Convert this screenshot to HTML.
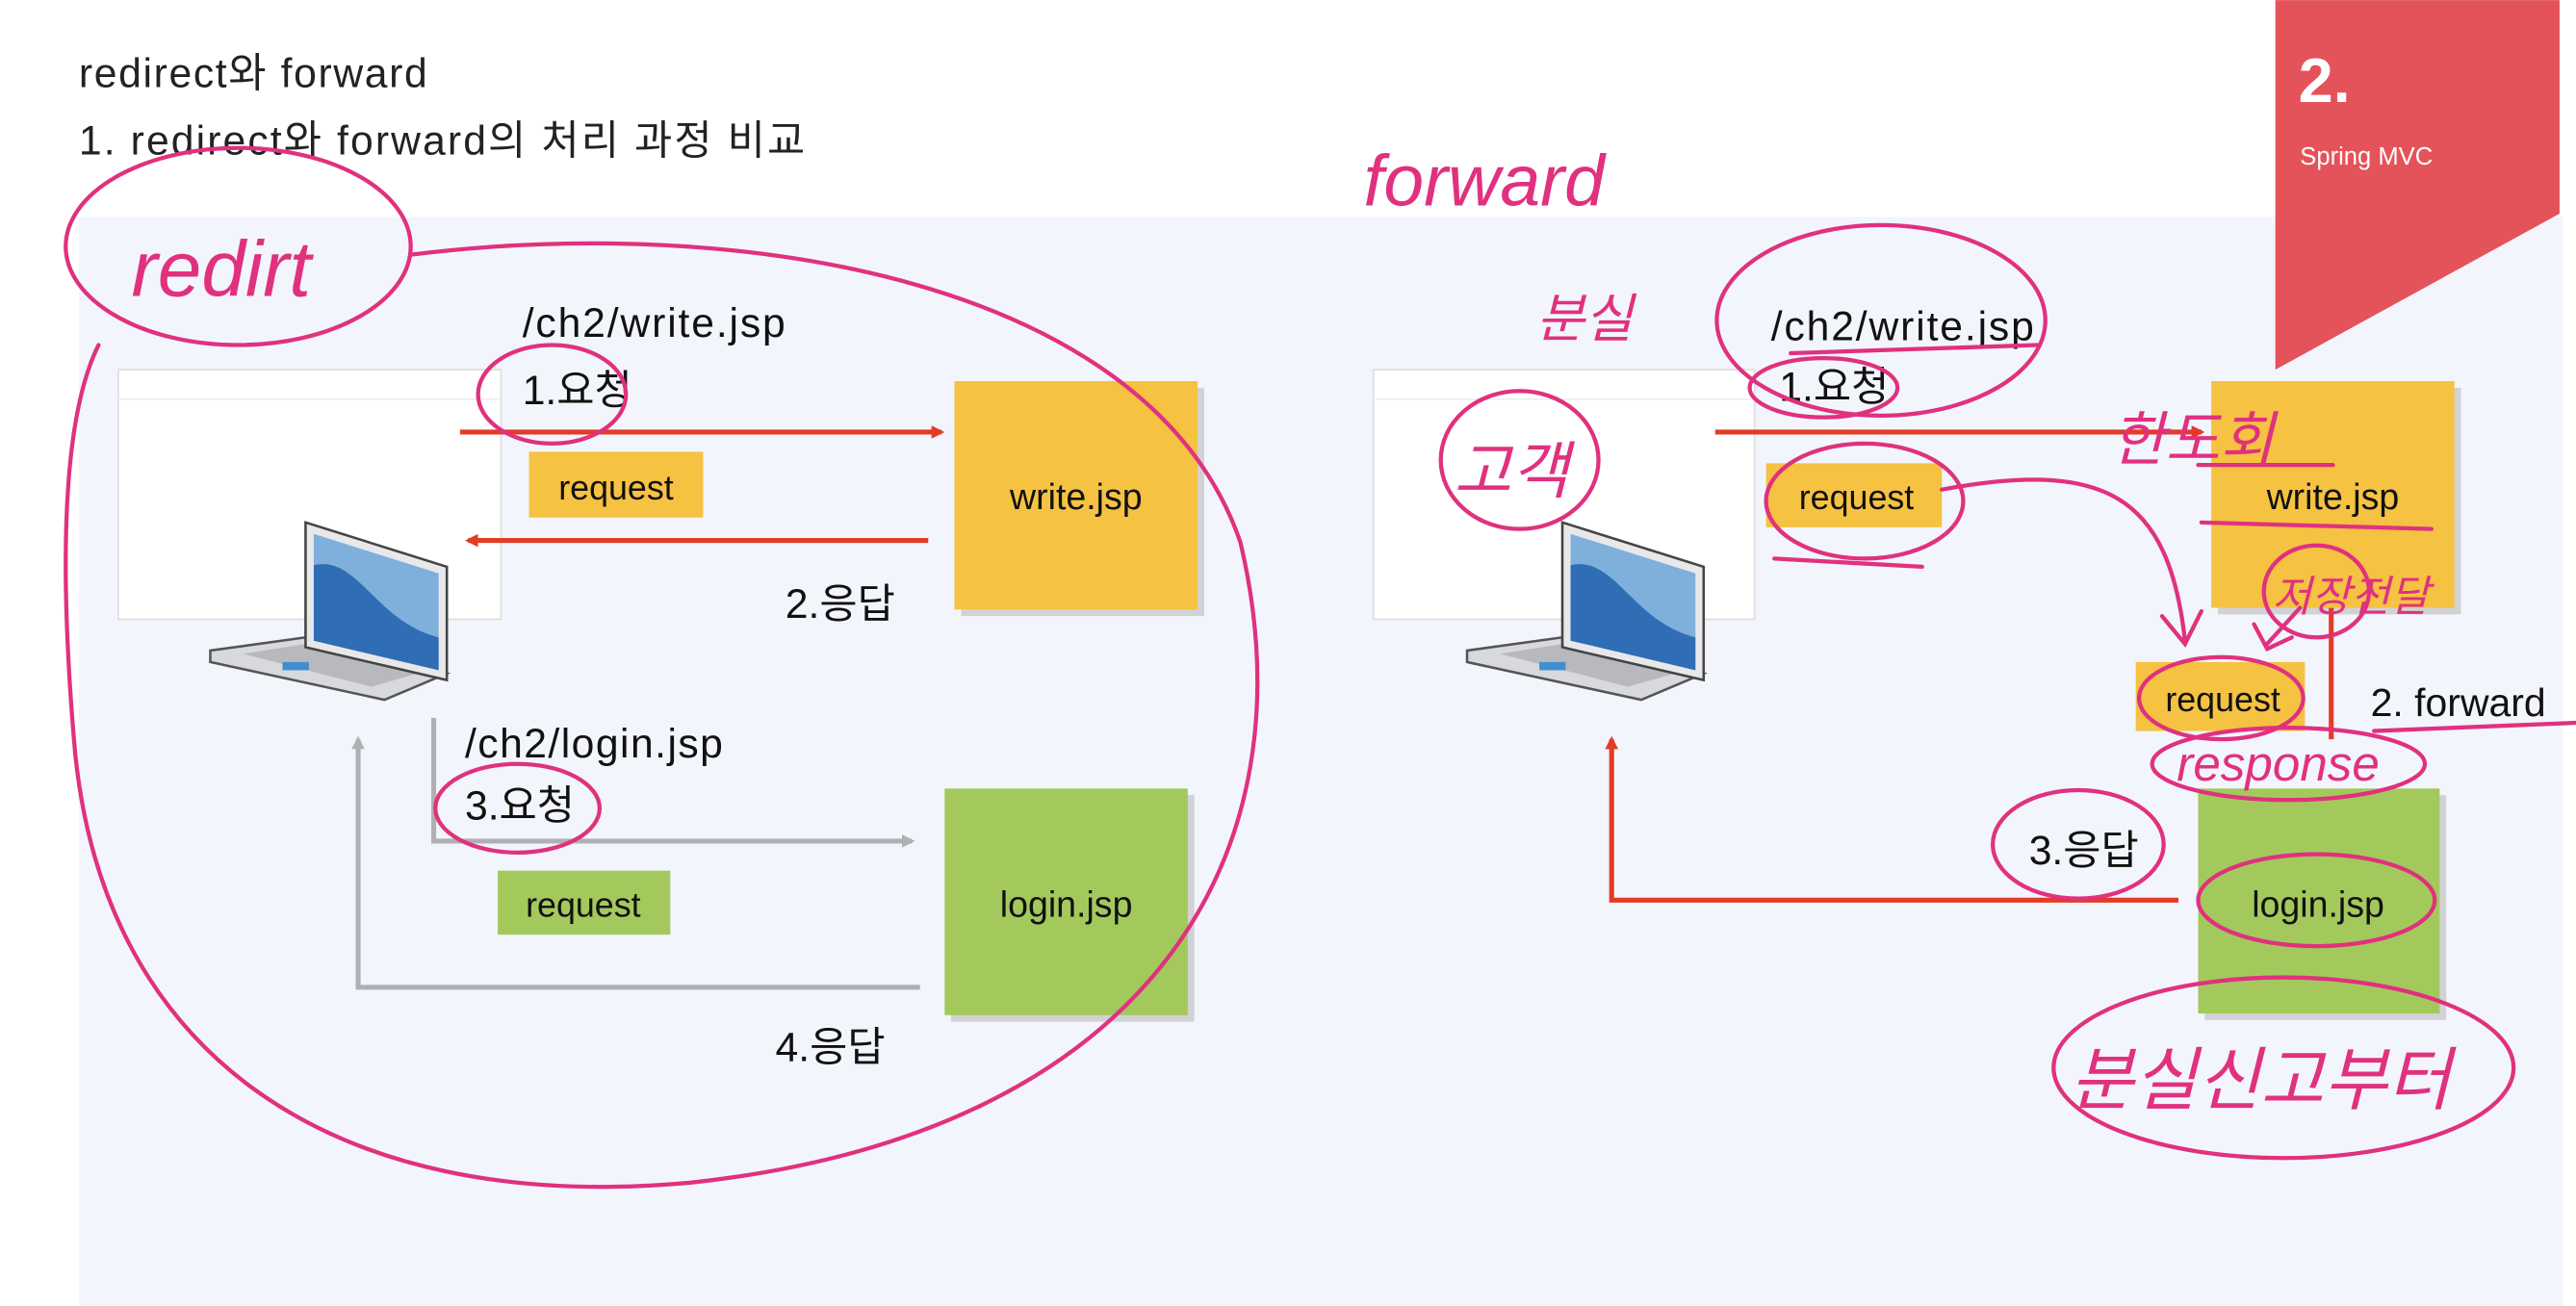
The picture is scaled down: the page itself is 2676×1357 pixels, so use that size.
<!DOCTYPE html>
<html><head><meta charset="utf-8"><style>
html,body{margin:0;padding:0;background:#fff;}
svg{display:block;}
text{font-family:"Liberation Sans","Noto Sans CJK KR",sans-serif;}
</style></head><body>
<svg width="2676" height="1357" viewBox="0 0 1568 795" xmlns="http://www.w3.org/2000/svg">
<defs>
<marker id="ar" markerWidth="8" markerHeight="8" refX="6" refY="4" orient="auto" markerUnits="userSpaceOnUse"><path d="M0,0 L8,4 L0,8 z" fill="#e33b26"/></marker>
<marker id="ag" markerWidth="8" markerHeight="8" refX="6" refY="4" orient="auto" markerUnits="userSpaceOnUse"><path d="M0,0 L8,4 L0,8 z" fill="#b0b0b4"/></marker>
<g id="laptop">
<polygon points="0,78 58,70 144,92 106,108 0,85" fill="#d8d9dc" stroke="#555" stroke-width="1.5"/>
<polygon points="20,80 58,74 126,92 98,100" fill="#b8b9bd"/>
<rect x="44" y="85" width="16" height="5" fill="#3f8fd0"/>
<polygon points="58,0 144,27 144,96 58,76" fill="#e8e8ea" stroke="#444" stroke-width="1.5"/>
<polygon points="63,7 139,31 139,90 63,72" fill="#7fb0dc"/>
<path d="M63,26 C90,20 100,60 139,70 L139,90 L63,72 z" fill="#2f6db5"/>
</g>
</defs>
<rect x="48" y="132" width="1520" height="663" fill="#f3f5fc"/>
<rect x="1560" y="0" width="8" height="795" fill="#fff"/>
<!-- banner -->
<polygon points="1385,0 1558,0 1558,130 1385,225" fill="#e5535a"/>
<text x="1399" y="62" font-size="38" fill="#fff" font-weight="bold">2.</text>
<text x="1400" y="100" font-size="15" fill="#fff">Spring MVC</text>
<!-- titles -->
<text x="48" y="53" font-size="25" fill="#222" textLength="212">redirect와 forward</text>
<text x="48" y="94" font-size="25" fill="#222" textLength="442">1. redirect와 forward의 처리 과정 비교</text>

<!-- LEFT -->
<rect x="72" y="225" width="233" height="152" fill="#fff" stroke="#ddd"/>
<line x1="72" y1="243" x2="305" y2="243" stroke="#eee"/>
<use href="#laptop" x="128" y="318"/>
<text x="318" y="205" font-size="25" fill="#111" textLength="160">/ch2/write.jsp</text>
<text x="318" y="246" font-size="25" fill="#111">1.요청</text>
<line x1="280" y1="263" x2="573" y2="263" stroke="#e33b26" stroke-width="3" marker-end="url(#ar)"/>
<rect x="322" y="275" width="106" height="40" fill="#f5c242"/>
<text x="375" y="304" font-size="21" text-anchor="middle" fill="#111">request</text>
<rect x="585" y="236" width="148" height="139" fill="#bbb" opacity=".6"/>
<rect x="581" y="232" width="148" height="139" fill="#f5c242"/>
<text x="655" y="310" font-size="22" text-anchor="middle" fill="#111">write.jsp</text>
<line x1="565" y1="329" x2="285" y2="329" stroke="#e33b26" stroke-width="3" marker-end="url(#ar)"/>
<text x="478" y="376" font-size="25" fill="#111">2.응답</text>
<polyline points="264,437 264,512 555,512" fill="none" stroke="#b0b0b4" stroke-width="3" marker-end="url(#ag)"/>
<text x="283" y="461" font-size="25" fill="#111" textLength="157">/ch2/login.jsp</text>
<text x="283" y="499" font-size="25" fill="#111">3.요청</text>
<rect x="303" y="530" width="105" height="39" fill="#a3c95d"/>
<text x="355" y="558" font-size="21" text-anchor="middle" fill="#111">request</text>
<rect x="579" y="484" width="148" height="138" fill="#bbb" opacity=".6"/>
<rect x="575" y="480" width="148" height="138" fill="#a3c95d"/>
<text x="649" y="558" font-size="22" text-anchor="middle" fill="#111">login.jsp</text>
<polyline points="560,601 218,601 218,450" fill="none" stroke="#b0b0b4" stroke-width="3" marker-end="url(#ag)"/>
<text x="472" y="646" font-size="25" fill="#111">4.응답</text>

<!-- RIGHT -->
<rect x="836" y="225" width="232" height="152" fill="#fff" stroke="#ddd"/>
<line x1="836" y1="243" x2="1068" y2="243" stroke="#eee"/>
<use href="#laptop" x="893" y="318"/>
<text x="1078" y="207" font-size="25" fill="#111" textLength="160">/ch2/write.jsp</text>
<text x="1083" y="244" font-size="25" fill="#111">1.요청</text>
<line x1="1044" y1="263" x2="1340" y2="263" stroke="#e33b26" stroke-width="3" marker-end="url(#ar)"/>
<rect x="1075" y="282" width="107" height="39" fill="#f5c242"/>
<text x="1130" y="310" font-size="21" text-anchor="middle" fill="#111">request</text>
<rect x="1350" y="236" width="148" height="138" fill="#bbb" opacity=".6"/>
<rect x="1346" y="232" width="148" height="138" fill="#f5c242"/>
<text x="1420" y="310" font-size="22" text-anchor="middle" fill="#111">write.jsp</text>
<line x1="1419" y1="370" x2="1419" y2="450" stroke="#e33b26" stroke-width="3"/>
<rect x="1300" y="403" width="103" height="42" fill="#f5c242"/>
<text x="1353" y="433" font-size="21" text-anchor="middle" fill="#111">request</text>
<text x="1443" y="436" font-size="24" fill="#111">2. forward</text>
<rect x="1342" y="484" width="147" height="137" fill="#bbb" opacity=".6"/>
<rect x="1338" y="480" width="147" height="137" fill="#a3c95d"/>
<text x="1411" y="558" font-size="22" text-anchor="middle" fill="#111">login.jsp</text>
<polyline points="1326,548 981,548 981,450" fill="none" stroke="#e33b26" stroke-width="3" marker-end="url(#ar)"/>
<text x="1235" y="526" font-size="25" fill="#111">3.응답</text>

<!-- pink annotations -->
<g fill="none" stroke="#e0317f" stroke-width="2.5" stroke-linecap="round">
<ellipse cx="145" cy="150" rx="105" ry="60"/>
<path d="M250,155 C450,130 700,170 755,330 C800,520 700,690 420,720 C200,740 60,640 45,450 C35,330 40,250 60,210"/>
<ellipse cx="336" cy="240" rx="45" ry="30"/>
<ellipse cx="315" cy="492" rx="50" ry="27"/>
<ellipse cx="1145" cy="195" rx="100" ry="58"/>
<ellipse cx="1110" cy="236" rx="45" ry="18"/>
<ellipse cx="1135" cy="305" rx="60" ry="35"/>
<ellipse cx="925" cy="280" rx="48" ry="42"/>
<ellipse cx="1352" cy="425" rx="50" ry="25"/>
<ellipse cx="1393" cy="465" rx="83" ry="22"/>
<ellipse cx="1265" cy="514" rx="52" ry="33"/>
<ellipse cx="1410" cy="548" rx="72" ry="28"/>
<ellipse cx="1390" cy="650" rx="140" ry="55"/>
<ellipse cx="1410" cy="360" rx="32" ry="28"/>
<path d="M1182,298 C1280,280 1320,300 1330,390 M1316,375 L1330,392 L1340,372"/>
<path d="M1400,370 L1380,392 M1372,380 L1380,395 L1395,388"/>
<path d="M1338,283 L1420,283 M1340,318 L1480,322 M1080,340 L1170,345 M1090,215 L1240,210 M1445,445 L1568,440"/>
</g>
<g fill="#e0317f" font-style="italic">
<text x="80" y="180" font-size="48" font-family="Liberation Serif,serif">redirt</text>
<text x="830" y="125" font-size="44" font-family="Liberation Serif,serif">forward</text>
<text x="935" y="205" font-size="32">분실</text>
<text x="885" y="300" font-size="38">고객</text>
<text x="1285" y="280" font-size="36">한도회</text>
<text x="1383" y="372" font-size="26">저장전달</text>
<text x="1325" y="475" font-size="30">response</text>
<text x="1260" y="672" font-size="42">분실신고부터</text>
</g>
</svg>
</body></html>
